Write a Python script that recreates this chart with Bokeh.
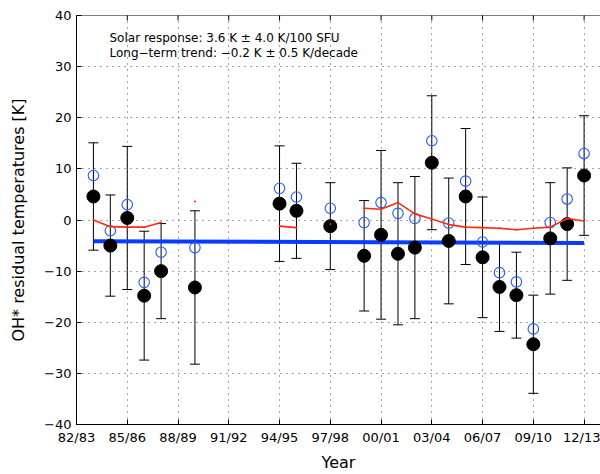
import math
from bokeh.plotting import figure
from bokeh.models import (ColumnDataSource, Whisker, TeeHead, Range1d, FixedTicker,
                          Label, Span)
from bokeh.embed import file_html
from bokeh.resources import INLINE

# ---------------- data ----------------
# winter seasons, given by their starting year (1983 -> "83/84")
season = [1983, 1984, 1985, 1986, 1987, 1989, 1994, 1995, 1997, 1999, 2000, 2001,
          2002, 2003, 2004, 2005, 2006, 2007, 2008, 2009, 2010, 2011, 2012]
residual = [4.6, -5.0, 0.4, -14.8, -10.0, -13.2, 3.2, 1.8, -1.2, -7.0, -2.9, -6.6,
            -5.4, 11.2, -4.1, 4.6, -7.3, -13.1, -14.7, -24.3, -3.6, -0.8, 8.7]
uncertainty = [10.5, 9.9, 14.0, 12.6, 9.3, 15.0, 11.3, 9.3, 8.5, 10.8, 16.5, 13.9,
               13.9, 13.1, 12.3, 13.3, 11.8, 8.7, 8.4, 9.6, 10.9, 11.0, 11.7]
residual_open = [8.7, -2.1, 3.0, -12.2, -6.3, -5.4, 6.2, 4.5, 2.3, -0.5, 3.4, 1.3,
                 0.3, 15.5, -0.6, 7.6, -4.3, -10.3, -12.1, -21.3, -0.5, 4.1, 13.0]

# red curve for every season 83/84 .. 12/13 (nan = no value)
nan = float("nan")
red_season = list(range(1983, 2013))
red_value = [0.0, -1.3, -1.4, -1.4, -0.5, nan, 3.6, nan, nan, nan, nan, -1.2, -1.5,
             nan, -0.8, nan, 2.3, 2.1, 3.4, 1.2, 0.2, -0.9, -1.4, -1.5, -1.6, -1.9,
             -1.6, -1.4, 0.3, -0.2]

trend_season = [1983, 2012]
trend_value = [-4.15, -4.5]

xtick_values = [1982, 1985, 1988, 1991, 1994, 1997, 2000, 2003, 2006, 2009, 2012]
xtick_labels = ["82/83", "85/86", "88/89", "91/92", "94/95", "97/98", "00/01",
                "03/04", "06/07", "09/10", "12/13"]
ytick_values = [-40, -30, -20, -10, 0, 10, 20, 30, 40]
ytick_labels = ["\u221240", "\u221230", "\u221220", "\u221210", "0", "10", "20", "30", "40"]

annotation_lines = ["Solar response: 3.6 K \u00b1 4.0 K/100 SFU",
                    "Long\u2212term trend: \u22120.2 K \u00b1 0.5 K/decade"]
x_title = "Year"
y_title = "OH* residual temperatures [K]"

FONT = "DejaVu Sans"
Y_MIN, Y_MAX = -40, 40

# ---------------- figure ----------------
p = figure(width=600, height=474, output_backend="svg", toolbar_location=None,
           x_range=Range1d(1982, 2012.97), y_range=Range1d(Y_MIN, Y_MAX),
           min_border_left=76, min_border_right=0, min_border_top=15,
           min_border_bottom=47)
p.outline_line_color = None
p.background_fill_color = "white"
p.border_fill_color = "white"

xa = p.xaxis[0]
xa.ticker = FixedTicker(ticks=xtick_values)
xa.major_label_overrides = {v: s for v, s in zip(xtick_values, xtick_labels)}
ya = p.yaxis[0]
ya.ticker = FixedTicker(ticks=ytick_values)
ya.major_label_overrides = {v: s for v, s in zip(ytick_values, ytick_labels)}

for ax in (xa, ya):
    ax.major_tick_in = 5
    ax.major_tick_out = 0
    ax.minor_tick_line_color = None
    ax.axis_line_color = "black"
    ax.major_tick_line_color = "black"
    ax.major_label_text_font = FONT
    ax.major_label_text_font_size = "13px"
    ax.major_label_text_color = "black"
    ax.axis_label_text_font = FONT
    ax.axis_label_text_font_size = "16px"
    ax.axis_label_text_font_style = "normal"
    ax.axis_label_text_color = "black"
    ax.major_label_standoff = 5

xa.axis_label = x_title
xa.axis_label_standoff = 5
ya.axis_label = y_title
ya.axis_label_standoff = 13

# top border of the box with inward ticks
p.add_layout(Span(location=Y_MAX, dimension="width", line_color="black", line_width=1.2))
p.scatter(xtick_values, [Y_MAX] * len(xtick_values), marker="dash", angle=math.pi / 2,
          size=10, line_color="black", line_width=1)

p.xgrid.ticker = FixedTicker(ticks=xtick_values)
p.ygrid.ticker = FixedTicker(ticks=ytick_values)
for g in (p.xgrid[0], p.ygrid[0]):
    g.grid_line_color = "black"
    g.grid_line_alpha = 0.7
    g.grid_line_dash = "1 5"
    g.grid_line_width = 1

# ---------------- marks ----------------
src = ColumnDataSource(dict(
    x=season, y=residual, y2=residual_open,
    upper=[r + u for r, u in zip(residual, uncertainty)],
    lower=[r - u for r, u in zip(residual, uncertainty)]))

w = Whisker(source=src, base="x", upper="upper", lower="lower",
            line_color="black", line_width=1,
            upper_head=TeeHead(size=10, line_color="black", line_width=1),
            lower_head=TeeHead(size=10, line_color="black", line_width=1))
p.add_layout(w)

p.line(trend_season, trend_value, line_color="#0a3cff", line_width=4)

p.scatter("x", "y", source=src, size=13, fill_color="black", line_color="black")
p.scatter("x", "y2", source=src, size=10.5, fill_color=None, line_color="#1f5bff",
          line_width=1.1)

p.line(red_season, red_value, line_color="#ff2a10", line_width=1.6)
p.scatter(red_season, red_value, size=2, fill_color="#ff2a10", line_color=None)

for i, txt in enumerate(annotation_lines):
    p.add_layout(Label(x=1983.95, y=35.6 - 2.85 * i, text=txt, text_font=FONT,
                       text_font_size="12px", text_color="black",
                       text_baseline="alphabetic"))

open("out.html", "w").write(file_html(p, INLINE))
